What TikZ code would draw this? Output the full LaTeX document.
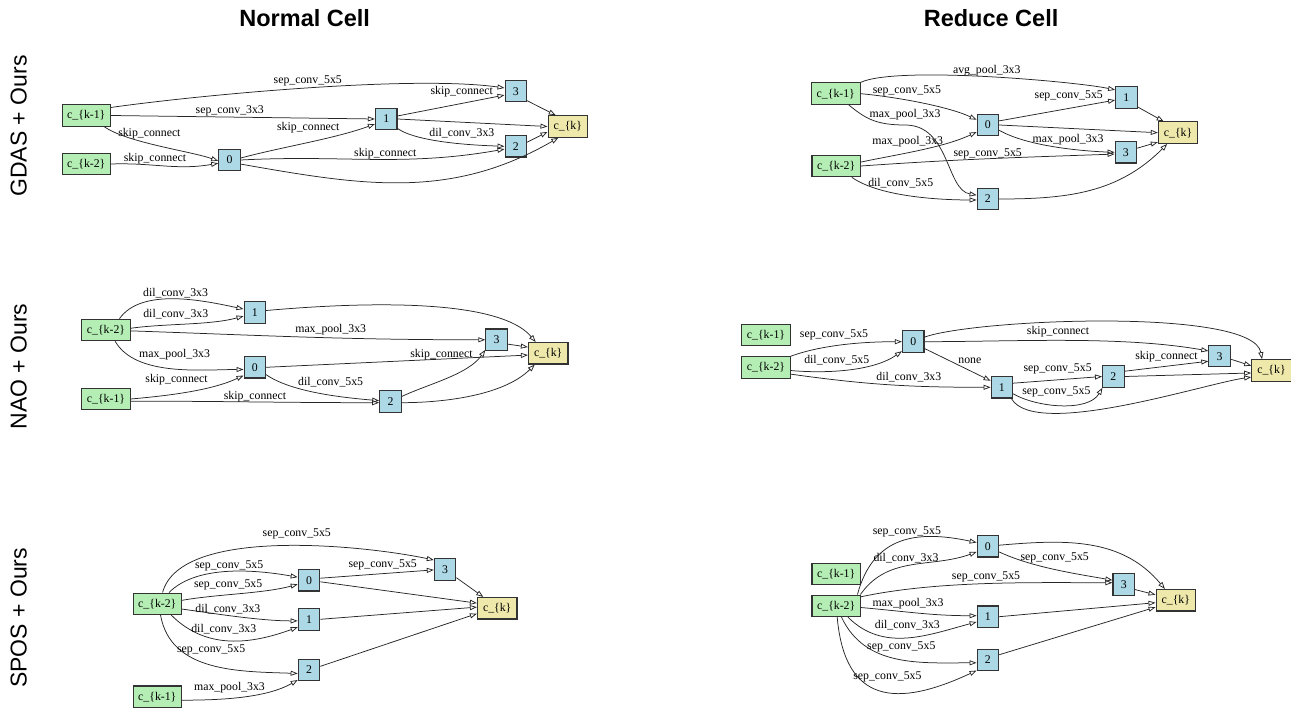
\documentclass[tikz,border=0pt]{standalone}
\usepackage{fontspec}
\setmainfont{Liberation Serif}
\newfontfamily\headfont{Liberation Sans}
\usepackage{tikz}
\usetikzlibrary{arrows.meta, positioning}
\definecolor{inputgreen}{RGB}{180,238,180}
\definecolor{interblue}{RGB}{173,216,230}
\definecolor{outputyellow}{RGB}{238,232,170}
\tikzset{
    cellinput/.style={rectangle, fill=inputgreen, draw=black!80, line width=1.1pt, minimum width=48.5pt, minimum height=21.5pt, inner sep=0pt, font=\fontsize{11.8}{13}\selectfont},
    cellnode/.style={rectangle, fill=interblue, draw=black!80, line width=1.1pt, minimum width=21.5pt, minimum height=21.5pt, inner sep=0pt, font=\fontsize{11.8}{13}\selectfont},
    celloutput/.style={rectangle, fill=outputyellow, draw=black!80, line width=1.1pt, minimum width=39.5pt, minimum height=21.5pt, inner sep=0pt, font=\fontsize{11.8}{13}\selectfont},
    cellarrow/.style={-{Triangle[open,length=7pt,width=5pt]}, line width=0.75pt, draw=black!85},
    celllabel/.style={inner sep=0.5pt, font=\fontsize{11.8}{13}\selectfont},
    coltitle/.style={font=\headfont\bfseries\fontsize{23.5}{28}\selectfont},
    rowtitle/.style={font=\headfont\fontsize{23}{27}\selectfont, rotate=90}
}

\begin{document}
\begin{tikzpicture}[x=1pt, y=1pt]
    \useasboundingbox (0,0) rectangle (1291,-708);

    % Column and row titles
    \node[coltitle] (titleNormal) at (304.7,-18.5) {Normal Cell};
    \node[coltitle] (titleReduce) at (991.1,-18.5) {Reduce Cell};
    \node[rowtitle] (rowGdas) at (18.6,-126) {GDAS + Ours};
    \node[rowtitle] (rowNao) at (18.6,-366.5) {NAO + Ours};
    \node[rowtitle] (rowSpos) at (18.6,-618) {SPOS + Ours};

    % GDAS normal cell
    \node[cellinput] (gaK1) at (86.3,-115.5) {c\_\{k-1\}};
    \node[cellinput] (gaK2) at (86.3,-164) {c\_\{k-2\}};
    \node[cellnode] (ga0) at (229.5,-160) {0};
    \node[cellnode] (ga1) at (386.2,-119) {1};
    \node[cellnode] (ga3) at (515.8,-91.2) {3};
    \node[cellnode] (ga2) at (515.8,-146.3) {2};
    \node[celloutput] (gaOut) at (567.8,-126.5) {c\_\{k\}};

    \draw[cellarrow] (gaK1.18) to[out=8,in=172,looseness=0.6] node[celllabel,pos=0.5,above=1pt] {sep\_conv\_5x5} (ga3.164);
    \draw[cellarrow] (gaK1.east) -- node[celllabel,pos=0.45,above=0.5pt] {sep\_conv\_3x3} (ga1.west);
    \draw[cellarrow] (gaK1.-32) to[out=-35,in=160,looseness=0.6] node[celllabel,pos=0.42,above=4pt] {skip\_connect} (ga0.185);
    \draw[cellarrow] (gaK2.east) to[out=2,in=190] node[celllabel,pos=0.4,above=0.5pt] {skip\_connect} (ga0.196);
    \draw[cellarrow] (ga0.10) to[out=15,in=200,looseness=0.8] node[celllabel,pos=0.5,above=8pt] {skip\_connect} (ga1.204);
    \draw[cellarrow] (ga0.east) to[out=3,in=190] node[celllabel,pos=0.55,above=-1pt] {skip\_connect} (ga2.194);
    \draw[cellarrow] (ga1.15) -- node[celllabel,pos=0.6,above=6pt] {skip\_connect} (ga3.199);
    \draw[cellarrow] (ga1.-40) to[out=-35,in=178,looseness=0.6] node[celllabel,pos=0.6,above=5pt] {dil\_conv\_3x3} (ga2.west);
    \draw[cellarrow] (ga1.east) -- (gaOut.west);
    \draw[cellarrow] (ga3.-40) -- (gaOut.137);
    \draw[cellarrow] (ga2.20) -- (gaOut.195);
    \draw[cellarrow] (ga0.-20) to[out=-10,in=-150] (gaOut.-130);

    % GDAS reduce cell
    \node[cellinput] (gbK1) at (835.8,-93.7) {c\_\{k-1\}};
    \node[cellinput] (gbK2) at (836.2,-166) {c\_\{k-2\}};
    \node[cellnode] (gb0) at (987.9,-125) {0};
    \node[cellnode] (gb1) at (1126.4,-97.5) {1};
    \node[cellnode] (gb3) at (1125.9,-152.3) {3};
    \node[cellnode] (gb2) at (987.9,-199) {2};
    \node[celloutput] (gbOut) at (1178.1,-132.7) {c\_\{k\}};

    \draw[cellarrow] (gbK1.north east) to[out=25,in=168,looseness=0.4] node[celllabel,pos=0.5,above=0pt] {avg\_pool\_3x3} (gb1.146);
    \draw[cellarrow] (gbK1.east) to[out=-5,in=155,looseness=0.7] node[celllabel,pos=0.4,above=3.5pt] {sep\_conv\_5x5} (gb0.155);
    \draw[cellarrow] (gbK1.-41) .. controls (865,-118) and (875,-125) .. (905,-125) node[celllabel,above=4pt] {max\_pool\_3x3} .. controls (950,-125) and (946,-190) .. (gb2.161);
    \draw[cellarrow] (gbK2.9) to[out=12,in=205,looseness=0.8] node[celllabel,pos=0.4,above=5pt] {max\_pool\_3x3} (gb0.212);
    \draw[cellarrow] (gbK2.east) to[out=4,in=182] node[celllabel,pos=0.5,above=-1pt] {sep\_conv\_5x5} (gb3.189);
    \draw[cellarrow] (gbK2.-36) to[out=-35,in=180,looseness=0.7] node[celllabel,pos=0.42,above=5pt] {dil\_conv\_5x5} (gb2.185);
    \draw[cellarrow] (gb0.20) -- node[celllabel,pos=0.6,above=6.5pt] {sep\_conv\_5x5} (gb1.193);
    \draw[cellarrow] (gb0.east) -- (gbOut.west);
    \draw[cellarrow] (gb0.-25) to[out=-30,in=178,looseness=0.7] node[celllabel,pos=0.6,above=2.5pt] {max\_pool\_3x3} (gb3.west);
    \draw[cellarrow] (gb1.-40) -- (gbOut.142);
    \draw[cellarrow] (gb3.20) -- (gbOut.205);
    \draw[cellarrow] (gb2.east) to[out=0,in=-135] (gbOut.-134);

    % NAO normal cell
    \node[cellinput] (naK2) at (106,-330) {c\_\{k-2\}};
    \node[cellinput] (naK1) at (106,-399) {c\_\{k-1\}};
    \node[cellnode] (na1) at (254.8,-312.5) {1};
    \node[cellnode] (na0) at (254.8,-367.3) {0};
    \node[cellnode] (na3) at (496.6,-339.8) {3};
    \node[cellnode] (na2) at (390.5,-401.7) {2};
    \node[celloutput] (naOut) at (548.2,-353.3) {c\_\{k\}};

    \draw[cellarrow] (naK2.40) to[out=55,in=168,looseness=0.8] node[celllabel,pos=0.5,above=0pt] {dil\_conv\_3x3} (na1.163);
    \draw[cellarrow] (naK2.4) to[out=8,in=195,looseness=0.8] node[celllabel,pos=0.4,above=5pt] {dil\_conv\_3x3} (na1.198);
    \draw[cellarrow] (naK2.-2) to[out=-2,in=180] node[celllabel,pos=0.57,above=2pt] {max\_pool\_3x3} (na3.west);
    \draw[cellarrow] (naK2.-51) to[out=-60,in=180,looseness=0.8] node[celllabel,pos=0.52,above=8.5pt] {max\_pool\_3x3} (na0.191);
    \draw[cellarrow] (naK1.east) to[out=5,in=205,looseness=0.8] node[celllabel,pos=0.4,above=8pt] {skip\_connect} (na0.216);
    \draw[cellarrow] (naK1.-5) to[out=0,in=180] node[celllabel,pos=0.5,above=-0.5pt] {skip\_connect} (na2.185);
    \draw[cellarrow] (na0.east) -- node[celllabel,pos=0.67,above=-1.3pt] {skip\_connect} (naOut.185);
    \draw[cellarrow] (na0.-33) to[out=-35,in=175,looseness=0.7] node[celllabel,pos=0.58,above=7.5pt] {dil\_conv\_5x5} (na2.175);
    \draw[cellarrow] (na2.25) to[out=25,in=-125,looseness=0.8] (na3.222);
    \draw[cellarrow] (na2.-5) to[out=0,in=-135,looseness=0.8] (naOut.220);
    \draw[cellarrow] (na1.10) to[out=5,in=130,looseness=0.6] (naOut.138);
    \draw[cellarrow] (na3.-21) -- (naOut.163);

    % NAO reduce cell
    \node[cellinput] (nbK1) at (766,-335.2) {c\_\{k-1\}};
    \node[cellinput] (nbK2) at (766,-367.5) {c\_\{k-2\}};
    \node[cellnode] (nb0) at (913.2,-341.7) {0};
    \node[cellnode] (nb1) at (1001.9,-387.3) {1};
    \node[cellnode] (nb2) at (1113.3,-376.5) {2};
    \node[cellnode] (nb3) at (1219.6,-356.2) {3};
    \node[celloutput] (nbOut) at (1271.5,-370.5) {c\_\{k\}};

    \draw[cellarrow] (nbK2.north east) to[out=20,in=180,looseness=0.8] node[celllabel,pos=0.4,above=5.5pt] {sep\_conv\_5x5} (nb0.west);
    \draw[cellarrow] (nbK2.-7) to[out=-5,in=215,looseness=0.8] node[celllabel,pos=0.4,above=5pt] {dil\_conv\_5x5} (nb0.220);
    \draw[cellarrow] (nbK2.-15) to[out=-8,in=180] node[celllabel,pos=0.6,above=3pt] {dil\_conv\_3x3} (nb1.west);
    \draw[cellarrow] (nb0.-31) -- node[celllabel,pos=0.5,above right] {none} (nb1.150);
    \draw[cellarrow] (nb0.east) to[out=0,in=170,looseness=0.8] node[celllabel,pos=0.47,above=3pt] {skip\_connect} (nb3.155);
    \draw[cellarrow] (nb0.22) to[out=20,in=100,looseness=0.4] (nbOut.130);
    \draw[cellarrow] (nb1.20) -- node[celllabel,pos=0.5,above=4.5pt] {sep\_conv\_5x5} (nb2.west);
    \draw[cellarrow] (nb1.-30) to[out=-30,in=-120,looseness=0.8] node[celllabel,pos=0.45,above=7pt] {sep\_conv\_5x5} (nb2.226);
    \draw[cellarrow] (nb1.-50) to[out=-60,in=188,looseness=0.5] (nbOut.198);
    \draw[cellarrow] (nb2.25) -- node[celllabel,pos=0.5,above=3.5pt] {skip\_connect} (nb3.204);
    \draw[cellarrow] (nb2.east) -- (nbOut.187);
    \draw[cellarrow] (nb3.-15) -- (nbOut.167);

    % SPOS normal cell
    \node[cellinput] (saK2) at (157.3,-603.8) {c\_\{k-2\}};
    \node[cellinput] (saK1) at (157.3,-696.7) {c\_\{k-1\}};
    \node[cellnode] (sa0) at (309,-580.2) {0};
    \node[cellnode] (sa1) at (309,-619.3) {1};
    \node[cellnode] (sa2) at (309,-669.8) {2};
    \node[cellnode] (sa3) at (445.1,-569.5) {3};
    \node[celloutput] (saOut) at (497.2,-608.2) {c\_\{k\}};

    \draw[cellarrow] (saK2.65) to[out=75,in=168,looseness=0.65] node[celllabel,pos=0.55,above=6pt] {sep\_conv\_5x5} (sa3.140);
    \draw[cellarrow] (saK2.44) to[out=45,in=170,looseness=0.8] node[celllabel,pos=0.5,above=0pt] {sep\_conv\_5x5} (sa0.165);
    \draw[cellarrow] (saK2.8) to[out=10,in=195,looseness=0.8] node[celllabel,pos=0.4,above=4pt] {sep\_conv\_5x5} (sa0.200);
    \draw[cellarrow] (saK2.-12) to[out=-8,in=180,looseness=0.8] node[celllabel,pos=0.4,above=1pt] {dil\_conv\_3x3} (sa1.188);
    \draw[cellarrow] (saK2.-39) to[out=-45,in=200] node[celllabel,pos=0.45,above=5pt] {dil\_conv\_3x3} (sa1.215);
    \draw[cellarrow] (saK2.-74) to[out=-80,in=178] node[celllabel,pos=0.5,above=9pt] {sep\_conv\_5x5} (sa2.198);
    \draw[cellarrow] (saK1.-8) to[out=0,in=210,looseness=0.8] node[celllabel,pos=0.4,above=4pt] {max\_pool\_3x3} (sa2.222);
    \draw[cellarrow] (sa0.10) -- node[celllabel,pos=0.55,above=3pt] {sep\_conv\_5x5} (sa3.182);
    \draw[cellarrow] (sa0.-8) -- (saOut.166);
    \draw[cellarrow] (sa1.east) -- (saOut.177);
    \draw[cellarrow] (sa2.17) -- (saOut.195);
    \draw[cellarrow] (sa3.-36) -- (saOut.141);

    % SPOS reduce cell
    \node[cellinput] (sbK1) at (836.2,-574) {c\_\{k-1\}};
    \node[cellinput] (sbK2) at (836.2,-605.8) {c\_\{k-2\}};
    \node[cellnode] (sb0) at (987.9,-546.2) {0};
    \node[cellnode] (sb1) at (987.9,-616.7) {1};
    \node[cellnode] (sb2) at (987.9,-660) {2};
    \node[cellnode] (sb3) at (1123.7,-584.3) {3};
    \node[celloutput] (sbOut) at (1175.8,-600.2) {c\_\{k\}};

    \draw[cellarrow] (sbK2.28) to[out=75,in=168,looseness=1.2] node[celllabel,pos=0.55,above=2pt] {sep\_conv\_5x5} (sb0.162);
    \draw[cellarrow] (sbK2.25) to[out=55,in=200] node[celllabel,pos=0.45,above=2pt] {dil\_conv\_3x3} (sb0.207);
    \draw[cellarrow] (sbK2.20) to[out=12,in=180,looseness=0.8] node[celllabel,pos=0.5,above=1pt] {sep\_conv\_5x5} (sb3.172);
    \draw[cellarrow] (sbK2.-4) to[out=-5,in=180] node[celllabel,pos=0.4,above=2pt] {max\_pool\_3x3} (sb1.175);
    \draw[cellarrow] (sbK2.-44) to[out=-45,in=195] node[celllabel,pos=0.5,above=6.5pt] {dil\_conv\_3x3} (sb1.205);
    \draw[cellarrow] (sbK2.-65) to[out=-65,in=180] node[celllabel,pos=0.53,above=7pt] {sep\_conv\_5x5} (sb2.194);
    \draw[cellarrow] (sbK2.-85) to[out=-85,in=205,looseness=1.5] node[celllabel,pos=0.55,above=9pt] {sep\_conv\_5x5} (sb2.223);
    \draw[cellarrow] (sb0.-27) to[out=-25,in=170,looseness=0.8] node[celllabel,pos=0.5,above=6pt] {sep\_conv\_5x5} (sb3.160);
    \draw[cellarrow] (sb0.5) to[out=5,in=130] (sbOut.134);
    \draw[cellarrow] (sb3.-25) -- (sbOut.165);
    \draw[cellarrow] (sb1.east) -- (sbOut.187);
    \draw[cellarrow] (sb2.25) -- (sbOut.199);
\end{tikzpicture}
\end{document}
